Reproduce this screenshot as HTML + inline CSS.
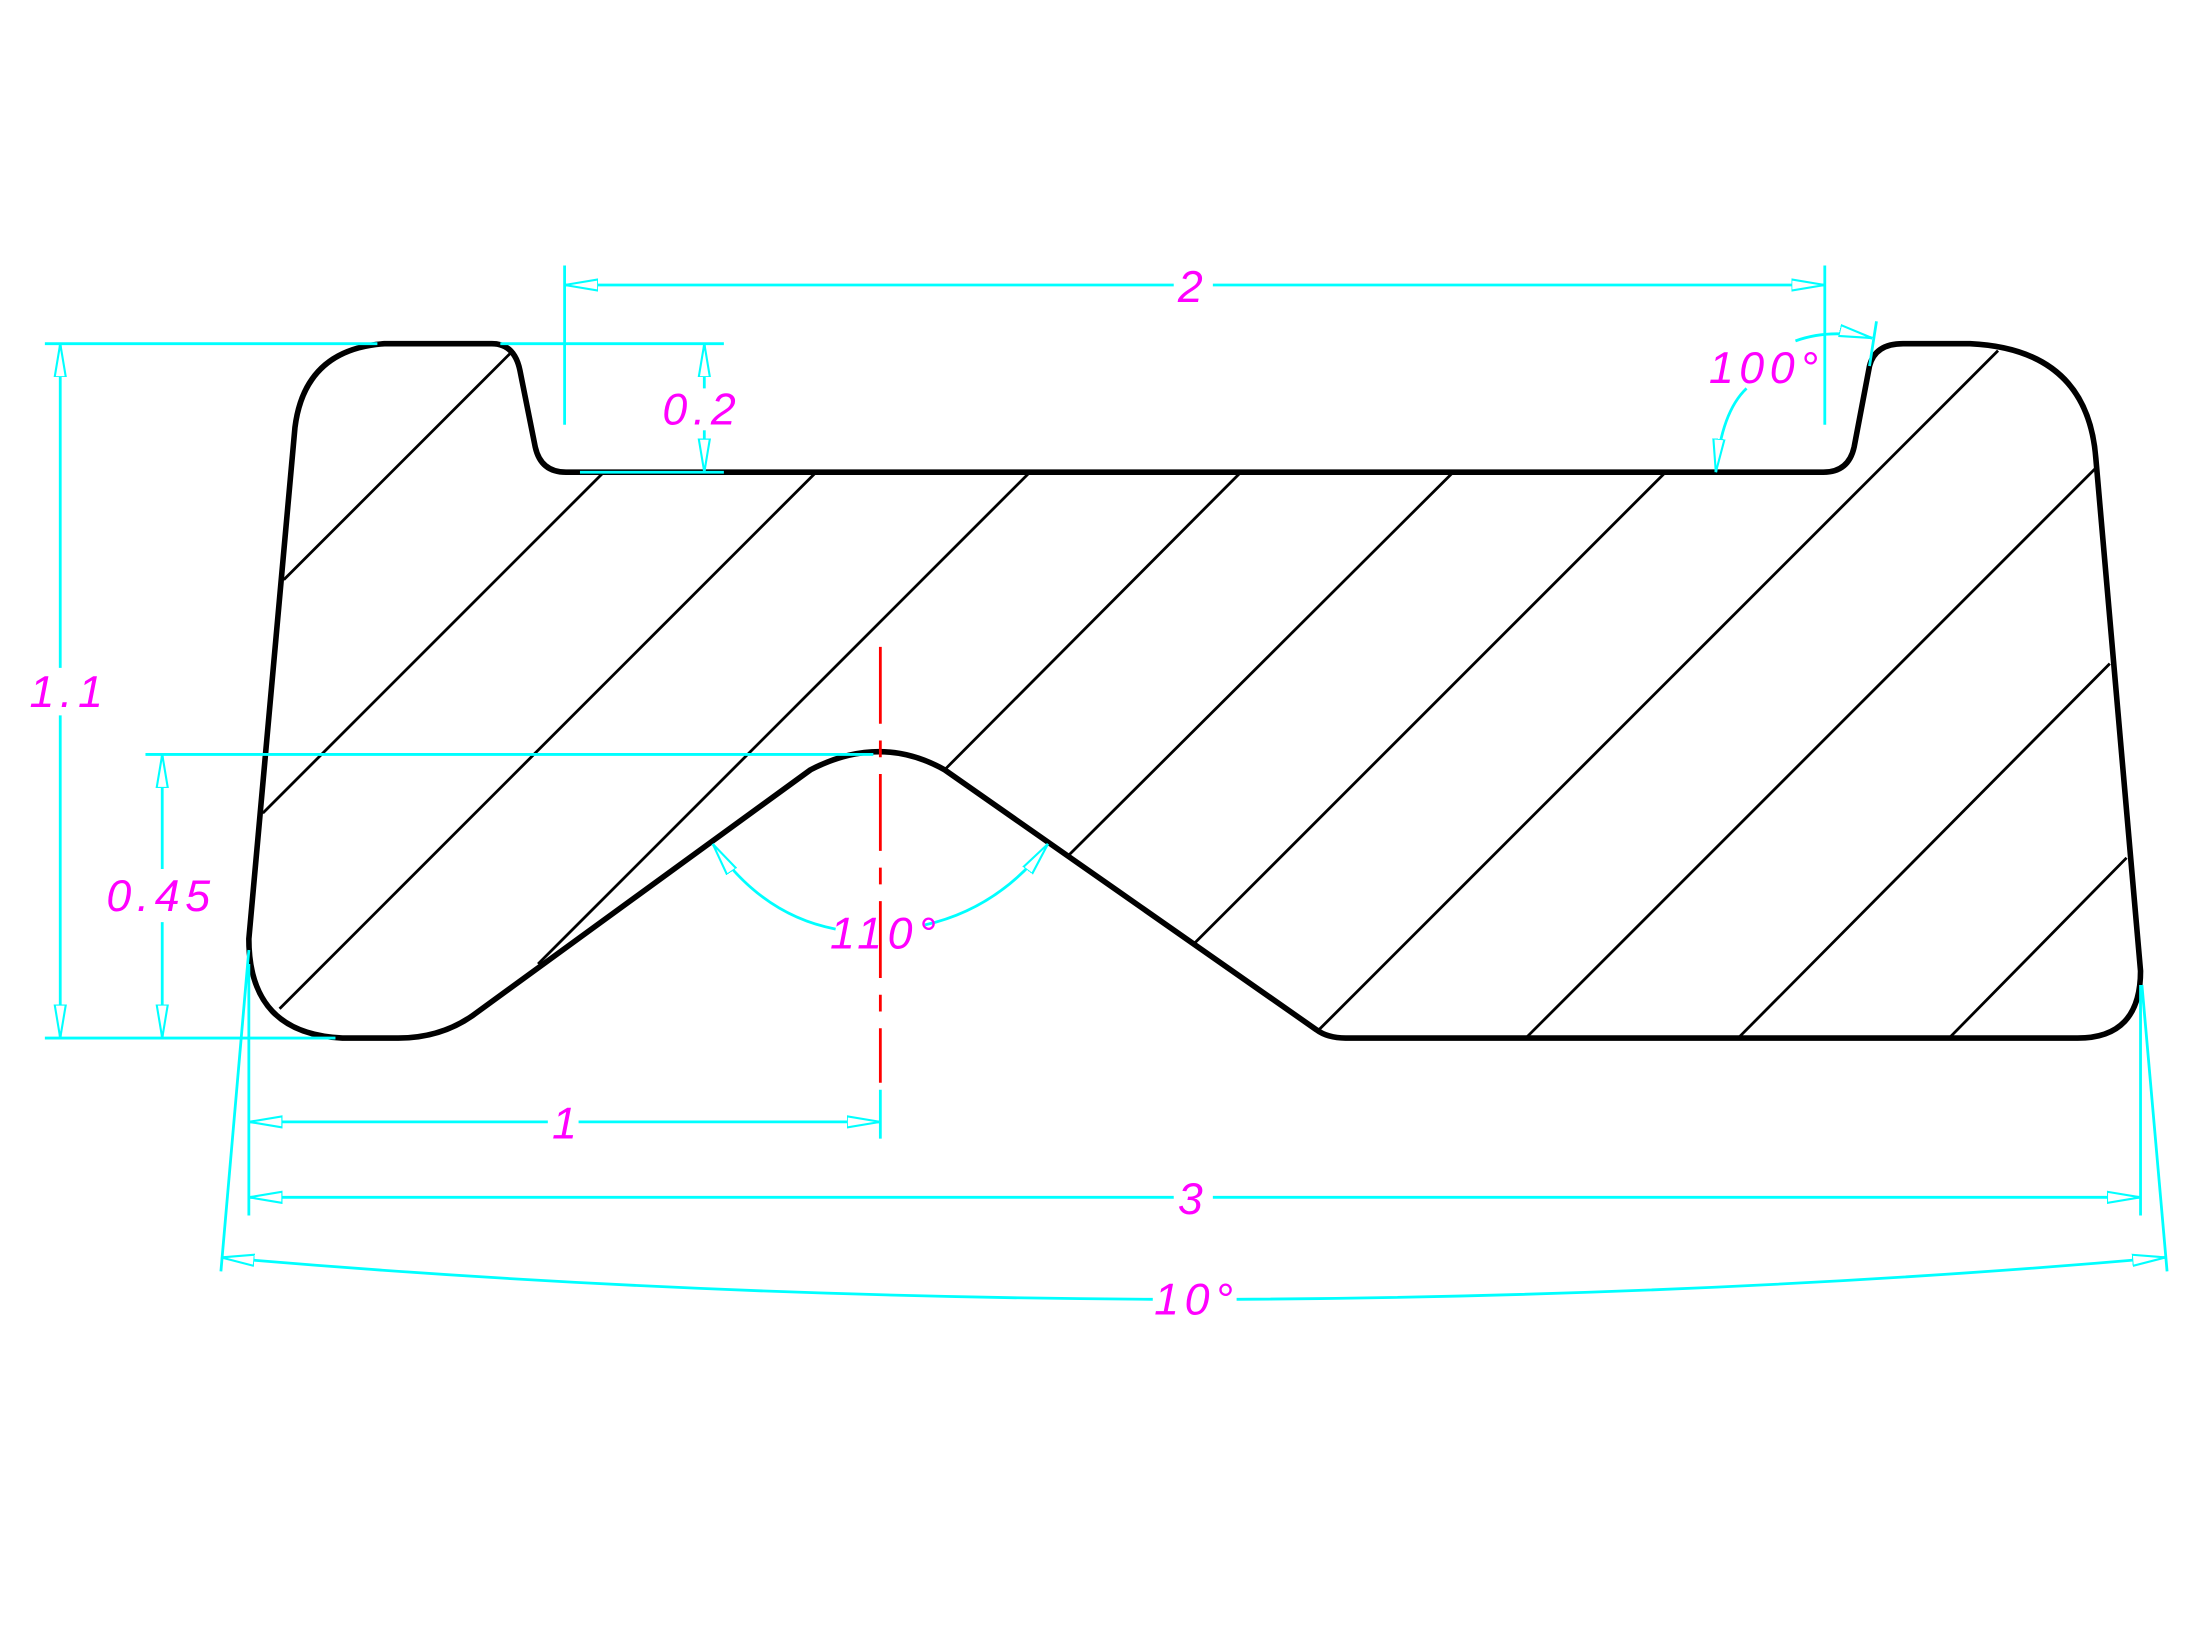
<!DOCTYPE html>
<html><head><meta charset="utf-8"><style>
html,body{margin:0;padding:0;background:#fff}
svg{display:block}
text{font-family:"Liberation Sans",sans-serif;font-style:italic;fill:#ff00ff;font-size:32px;letter-spacing:4px}
</style></head><body>
<svg width="2191" height="1643" viewBox="0 0 1568 1176" xmlns="http://www.w3.org/2000/svg">
<defs>
<marker id="a" viewBox="0 0 24 10" refX="24" refY="5" markerWidth="24" markerHeight="10" markerUnits="userSpaceOnUse" orient="auto-start-reverse">
<path d="M0,1 L24,5 L0,9 Z" fill="#fff" stroke="#00ffff" stroke-width="1.5"/></marker>
</defs>
<g stroke="#000" stroke-width="2">
<line x1="203" y1="415" x2="365" y2="253"/>
<line x1="188" y1="582" x2="432" y2="338"/>
<line x1="200" y1="722" x2="584" y2="338"/>
<line x1="385" y1="690" x2="737" y2="338"/>
<line x1="676" y1="551" x2="888" y2="338"/>
<line x1="765" y1="612" x2="1040" y2="338"/>
<line x1="855" y1="675" x2="1192" y2="338"/>
<line x1="944" y1="737" x2="1430" y2="251"/>
<line x1="1092" y1="743" x2="1500" y2="335"/>
<line x1="1244" y1="743" x2="1510" y2="475"/>
<line x1="1395" y1="743" x2="1522" y2="614"/>
</g>
<path d="M275,246 L352,246 Q368,246 372,265 L383,320 Q387,338 405,338 L1305,338 Q1323,338 1327,320 L1338,262 Q1342,246 1362,246 L1410,246 Q1494,250 1500,328 L1532,695 Q1532,743 1487,743 L963,743 Q950,743 942,737 L676,551 Q630,525 580,551 L338,727 Q315,743 285,743 L245,743 Q178,740 178,672 L211,306 Q218,250 275,246 Z" fill="none" stroke="#000" stroke-width="4" stroke-linejoin="round"/>
<line x1="630" y1="463" x2="630" y2="775" stroke="#ff0000" stroke-width="2" stroke-dasharray="55,12,12,12"/>
<g stroke="#00ffff" stroke-width="2" fill="none">
<line x1="404" y1="190" x2="404" y2="304"/>
<line x1="1306" y1="190" x2="1306" y2="304"/>
<line x1="404" y1="204" x2="840" y2="204" marker-start="url(#a)"/>
<line x1="868" y1="204" x2="1306" y2="204" marker-end="url(#a)"/>
<line x1="358" y1="246" x2="518" y2="246"/>
<line x1="415" y1="338" x2="518" y2="338"/>
<line x1="504" y1="246" x2="504" y2="278" marker-start="url(#a)"/>
<line x1="504" y1="308" x2="504" y2="338" marker-end="url(#a)"/>
<line x1="32" y1="246" x2="270" y2="246"/>
<line x1="32" y1="743" x2="240" y2="743"/>
<line x1="43" y1="246" x2="43" y2="478" marker-start="url(#a)"/>
<line x1="43" y1="512" x2="43" y2="743" marker-end="url(#a)"/>
<line x1="104" y1="540" x2="625" y2="540"/>
<line x1="116" y1="540" x2="116" y2="622" marker-start="url(#a)"/>
<line x1="116" y1="660" x2="116" y2="743" marker-end="url(#a)"/>
<line x1="178" y1="690" x2="178" y2="870"/>
<line x1="630" y1="780" x2="630" y2="815"/>
<line x1="178" y1="803" x2="392" y2="803" marker-start="url(#a)"/>
<line x1="414" y1="803" x2="630" y2="803" marker-end="url(#a)"/>
<line x1="1532" y1="705" x2="1532" y2="870"/>
<line x1="178" y1="857" x2="840" y2="857" marker-start="url(#a)"/>
<line x1="868" y1="857" x2="1532" y2="857" marker-end="url(#a)"/>
<line x1="178" y1="680" x2="158" y2="910"/>
<line x1="1533" y1="705" x2="1551" y2="910"/>
<path d="M158,900 Q480,928 825,930" marker-start="url(#a)"/>
<path d="M885,930 Q1230,928 1550,900" marker-end="url(#a)"/>
<path d="M510,604 Q545,655 598,665" marker-start="url(#a)"/>
<path d="M662,662 Q715,650 750,604" marker-end="url(#a)"/>
<path d="M1228,338 Q1232,295 1250,278" marker-start="url(#a)"/>
<path d="M1285,244 Q1310,235 1340,242" marker-end="url(#a)"/>
<line x1="1338" y1="262" x2="1343" y2="230"/>
</g>
<text x="843" y="216">2</text>
<text x="474" y="304">0.2</text>
<text x="21" y="506">1.1</text>
<text x="76" y="652">0.45</text>
<text x="395" y="815">1</text>
<text x="843" y="869">3</text>
<text x="826" y="941">10°</text>
<text x="594" y="679">110°</text>
<text x="1223" y="274">100°</text>
</svg>
</body></html>
